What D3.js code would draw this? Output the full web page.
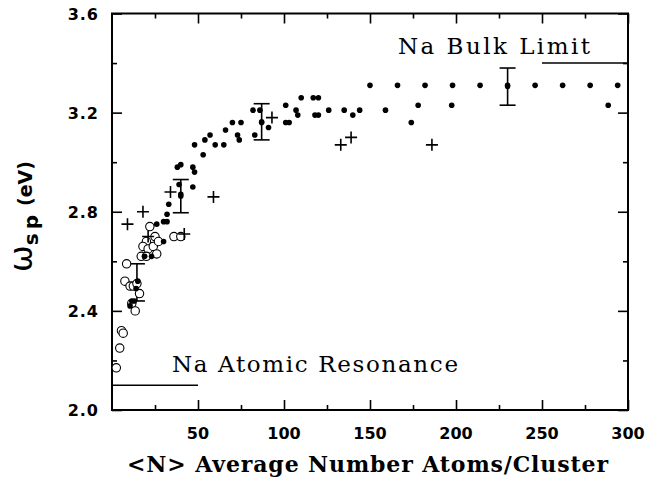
<!DOCTYPE html>
<html>
<head>
<meta charset="utf-8">
<script src="https://cdn.jsdelivr.net/npm/d3@7"></script>
<style>
  body { margin: 0; background: #fff; }
  .tick-label { font-family: "DejaVu Sans", sans-serif; font-weight: bold; font-size: 16px; }
  .serif { font-family: "DejaVu Serif", "Liberation Serif", serif; }
</style>
</head>
<body>
<script>
// x major / minor ticks, y major / minor ticks
const xMajor = [50, 100, 150, 200, 250, 300];
const xMinor = [25, 75, 125, 175, 225, 275];
const yMajor = [2.0, 2.4, 2.8, 3.2, 3.6];
const yMinor = [2.2, 2.6, 3.0, 3.4];

// filled circles
const filledN = [150, 166, 182, 198, 214, 230, 246, 262, 278, 294,
  144, 159, 178, 197.5, 174, 288.5,
  117, 120, 110, 101, 82, 86, 107, 108, 118, 120, 126, 135, 140,
  101, 103, 87, 91, 83, 70, 75, 66, 73, 74, 57, 54, 60, 65, 48, 53,
  40, 47, 48, 47, 38, 39, 40, 33, 32, 26, 30, 32, 30, 19, 23, 15, 14, 11.5, 13, 10.5];
const filledV = [3.31, 3.31, 3.31, 3.31, 3.31, 3.31, 3.31, 3.31, 3.31, 3.31,
  3.21, 3.21, 3.23, 3.23, 3.16, 3.23,
  3.26, 3.26, 3.26, 3.23, 3.21, 3.21, 3.21, 3.19, 3.19, 3.19, 3.21, 3.21, 3.19,
  3.16, 3.16, 3.16, 3.14, 3.11, 3.16, 3.16, 3.13, 3.11, 3.09, 3.11, 3.09, 3.07, 3.07, 3.07, 3.03,
  2.99, 2.98, 2.96, 2.90, 2.98, 2.91, 2.87, 2.83, 2.79, 2.75, 2.76, 2.76, 2.68, 2.62, 2.62, 2.52, 2.49, 2.44, 2.44, 2.42];

// open circles
const openN = [22, 36, 40, 20, 25, 18, 21, 24, 27, 17, 20, 26, 8.5, 7.5, 10.5, 12.4, 14.5, 16, 11.5, 13.5, 5.5, 6.5, 4.5, 2.5];
const openV = [2.74, 2.70, 2.70, 2.68, 2.70, 2.66, 2.65, 2.66, 2.68, 2.62, 2.62, 2.63, 2.59, 2.52, 2.50, 2.50, 2.51, 2.47, 2.43, 2.40, 2.32, 2.31, 2.25, 2.17];

// plus signs
const plusN = [186, 133, 139, 93, 59, 34, 18, 9, 42, 21];
const plusV = [3.07, 3.07, 3.10, 3.18, 2.86, 2.88, 2.80, 2.75, 2.71, 2.70];

// error bars
const errN = [230, 87, 40, 14.5];
const errV = [3.305, 3.163, 2.863, 2.515];
const errHalf = [0.075, 0.073, 0.067, 0.075];

// reference levels
const bulkN = [250, 300], bulkV = 3.4;
const atomN = [0, 50], atomV = 2.1;

const svg = d3.select("body").append("svg")
  .attr("width", 657)
  .attr("height", 480);

const x = d3.scaleLinear().domain([0, 300]).range([112, 628]);
const y = d3.scaleLinear().domain([2.0, 3.6]).range([410, 13.5]);

// ticks on all four sides, pointing inward
function ticks(axis, vals, size, tr) {
  const g = svg.append("g").attr("transform", tr)
    .call(axis.tickValues(vals).tickSize(-size).tickFormat(""));
  g.select(".domain").remove();
  g.selectAll("line").attr("stroke", "#000").attr("stroke-width", 1.6);
}
ticks(d3.axisBottom(x), xMajor, 10, "translate(0,410)");
ticks(d3.axisBottom(x), xMinor, 5, "translate(0,410)");
ticks(d3.axisTop(x), xMajor, 10, "translate(0,13.5)");
ticks(d3.axisTop(x), xMinor, 5, "translate(0,13.5)");
ticks(d3.axisLeft(y), yMajor, 10, "translate(112,0)");
ticks(d3.axisLeft(y), yMinor, 5, "translate(112,0)");
ticks(d3.axisRight(y), yMajor, 10, "translate(628,0)");
ticks(d3.axisRight(y), yMinor, 5, "translate(628,0)");

svg.append("rect")
  .attr("x", 112).attr("y", 13.5)
  .attr("width", 516).attr("height", 396.5)
  .attr("fill", "none").attr("stroke", "#000").attr("stroke-width", 2);

// tick labels
svg.selectAll(".xl").data(xMajor).join("text")
  .attr("class", "tick-label")
  .attr("x", d => x(d)).attr("y", 439)
  .attr("text-anchor", "middle")
  .text(d => d);

svg.selectAll(".yl").data(yMajor).join("text")
  .attr("class", "tick-label")
  .attr("x", 99).attr("y", d => y(d) + 6)
  .attr("text-anchor", "end")
  .attr("letter-spacing", 1)
  .text(d => d3.format(".1f")(d));

// axis titles
svg.append("text")
  .attr("class", "serif")
  .attr("x", 127).attr("y", 472)
  .attr("font-size", 22)
  .attr("font-weight", "bold")
  .attr("textLength", 481)
  .attr("lengthAdjust", "spacing")
  .text("<N> Average Number Atoms/Cluster");

const yt = svg.append("text")
  .attr("transform", "translate(32,272) rotate(-90)")
  .attr("font-family", "DejaVu Sans, sans-serif")
  .attr("font-weight", "bold");
yt.append("tspan").attr("font-size", 32).attr("font-weight", "normal").text("ω");
yt.append("tspan").attr("font-size", 20).attr("dy", 6).attr("letter-spacing", 4).text("sp");
yt.append("tspan").attr("font-size", 19).attr("dy", -6).attr("dx", 5).text("(eV)");

// reference lines and labels
svg.append("line")
  .attr("x1", x(bulkN[0])).attr("x2", x(bulkN[1]))
  .attr("y1", y(bulkV)).attr("y2", y(bulkV))
  .attr("stroke", "#000").attr("stroke-width", 1.6);
svg.append("line")
  .attr("x1", x(atomN[0])).attr("x2", x(atomN[1]))
  .attr("y1", y(atomV)).attr("y2", y(atomV))
  .attr("stroke", "#000").attr("stroke-width", 1.6);

svg.append("text")
  .attr("class", "serif")
  .attr("x", 398).attr("y", 54)
  .attr("font-size", 23)
  .attr("textLength", 192)
  .attr("lengthAdjust", "spacing")
  .text("Na Bulk Limit");
svg.append("text")
  .attr("class", "serif")
  .attr("x", 172).attr("y", 372)
  .attr("font-size", 23)
  .attr("textLength", 286)
  .attr("lengthAdjust", "spacing")
  .text("Na Atomic Resonance");

// error bars
errN.forEach((n, i) => {
  const cx = x(n), y1 = y(errV[i] + errHalf[i]), y2 = y(errV[i] - errHalf[i]);
  svg.append("line").attr("x1", cx).attr("x2", cx).attr("y1", y1).attr("y2", y2)
    .attr("stroke", "#000").attr("stroke-width", 1.6);
  [y1, y2].forEach(yy => svg.append("line")
    .attr("x1", cx - 8).attr("x2", cx + 8).attr("y1", yy).attr("y2", yy)
    .attr("stroke", "#000").attr("stroke-width", 1.6));
  svg.append("circle").attr("cx", cx).attr("cy", y(errV[i])).attr("r", 2.7);
});

// open circles
svg.selectAll(".open").data(openN).join("circle")
  .attr("cx", d => x(d))
  .attr("cy", (d, i) => y(openV[i]))
  .attr("r", 4.2)
  .attr("fill", "#fff")
  .attr("stroke", "#000")
  .attr("stroke-width", 1.1);

// filled circles
svg.selectAll(".filled").data(filledN).join("circle")
  .attr("cx", d => x(d))
  .attr("cy", (d, i) => y(filledV[i]))
  .attr("r", 2.8)
  .attr("fill", "#000");

// plus signs
svg.selectAll(".plus").data(plusN).join("path")
  .attr("d", (d, i) => {
    const px = x(d), py = y(plusV[i]);
    return `M${px - 6},${py}H${px + 6}M${px},${py - 6}V${py + 6}`;
  })
  .attr("stroke", "#000")
  .attr("stroke-width", 1.6);
</script>
</body>
</html>
